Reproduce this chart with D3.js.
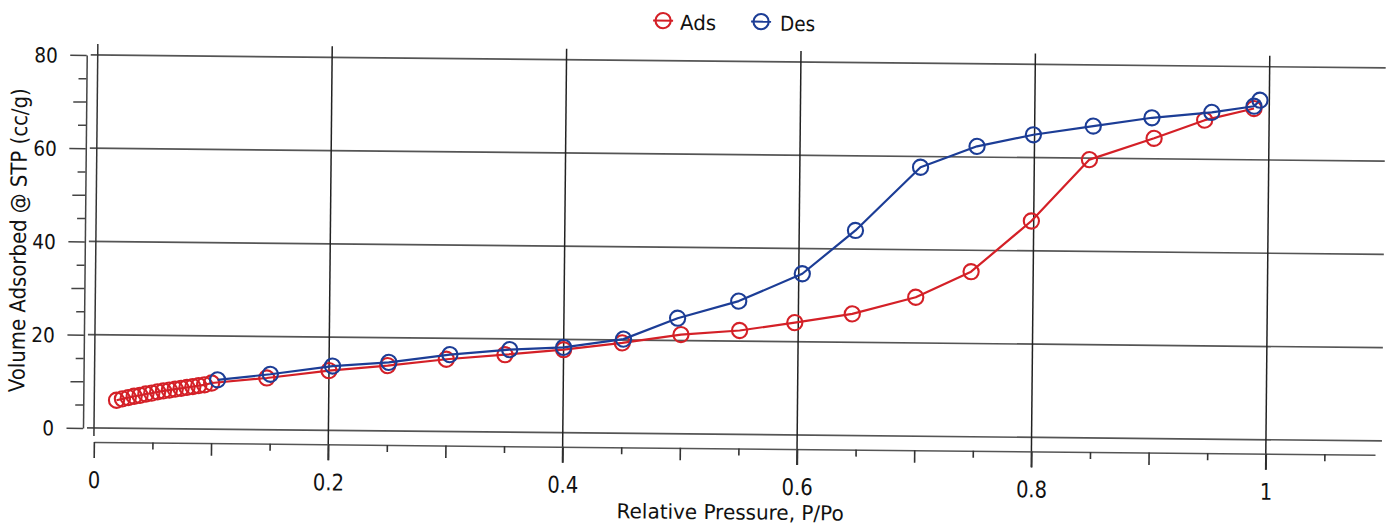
<!DOCTYPE html>
<html>
<head>
<meta charset="utf-8">
<script src="https://cdn.jsdelivr.net/npm/d3@7"></script>
<style>
  html, body { margin: 0; padding: 0; background: #fff; }
  svg { display: block; font-family: "DejaVu Sans", Verdana, sans-serif; }
</style>
</head>
<body>
<svg id="chart" width="1397" height="527"></svg>
<script>
// Nitrogen isotherm: adsorption and desorption branches
const adsP = [0.019, 0.024, 0.029, 0.034, 0.039, 0.044, 0.049, 0.054, 0.059, 0.064, 0.069,
              0.074, 0.079, 0.084, 0.089, 0.094, 0.1, 0.147, 0.2, 0.25, 0.3, 0.35, 0.4, 0.45,
              0.5, 0.55, 0.597, 0.646, 0.7, 0.747, 0.798, 0.847, 0.902, 0.945, 0.987];
const adsV = [6.0, 6.3, 6.6, 6.9, 7.1, 7.4, 7.6, 7.9, 8.1, 8.3, 8.5,
              8.7, 8.9, 9.1, 9.3, 9.5, 9.9, 11.1, 12.8, 14.0, 15.5, 16.6, 17.8, 19.4,
              21.3, 22.3, 24.1, 26.1, 29.8, 35.4, 46.4, 59.7, 64.4, 68.4, 71.0];

const desP = [0.992, 0.987, 0.951, 0.9, 0.85, 0.799, 0.751, 0.703, 0.648, 0.603,
              0.549, 0.497, 0.451, 0.4, 0.354, 0.303, 0.251, 0.203, 0.15, 0.105];
const desV = [72.8, 71.5, 70.1, 68.8, 66.9, 64.9, 62.3, 57.7, 44.0, 34.6,
              28.6, 24.8, 20.2, 18.3, 17.7, 16.5, 14.7, 13.8, 11.9, 10.6];

const yTicks = [0, 20, 40, 60, 80];
const xTicks = [0, 0.2, 0.4, 0.6, 0.8, 1];
const seriesNames = ["Ads", "Des"];

const RED = "#d42027", BLUE = "#1c3d96";

const svg = d3.select("#chart");
// whole sheet sits very slightly tilted
const root = svg.append("g").attr("transform", "rotate(0.573,94,428)");

const x = d3.scaleLinear().domain([0, 1]).range([94, 1266]);
const y = d3.scaleLinear().domain([0, 80]).range([428, 55]);
const xAxisScale = d3.scaleLinear().domain([0, 1.0932]).range([94, 94 + 1172 * 1.0932]);

// horizontal grid
root.append("g").selectAll("line").data(yTicks).join("line")
  .attr("x1", 87).attr("x2", 1382)
  .attr("y1", d => y(d)).attr("y2", d => y(d))
  .attr("stroke", "#555").attr("stroke-width", 1.7);

// left frame
root.append("line")
  .attr("x1", x(0)).attr("x2", x(0)).attr("y1", 44).attr("y2", 436)
  .attr("stroke", "#333").attr("stroke-width", 1.5);

// vertical grid
root.append("g").selectAll("line").data(xTicks.filter(d => d > 0)).join("line")
  .attr("x1", d => x(d)).attr("x2", d => x(d))
  .attr("y1", 44).attr("y2", 458)
  .attr("stroke", "#222").attr("stroke-width", 1.5);

function squeeze(sel, k) {
  sel.each(function () {
    const w = this.getComputedTextLength();
    if (w > 0) {
      this.setAttribute("textLength", (w * k).toFixed(1));
      this.setAttribute("lengthAdjust", "spacingAndGlyphs");
    }
  });
}

// y axis
const yAxis = d3.axisLeft(y)
  .tickValues(d3.range(0, 81, 5))
  .tickSizeOuter(0)
  .tickFormat(d => (d % 20 === 0 ? d : ""));
const gy = root.append("g").attr("transform", "translate(83,0)").call(yAxis);
gy.select(".domain").attr("stroke", "#444").attr("stroke-width", 1.5);
gy.selectAll(".tick line")
  .attr("x2", d => (d % 20 === 0 ? -16.5 : d % 10 === 0 ? -13 : -8))
  .attr("stroke", "#444").attr("stroke-width", 1.5);
gy.selectAll(".tick text")
  .attr("x", -29).attr("dy", "0.36em")
  .attr("font-size", 20.5).attr("fill", "#111")
  .style("font-family", "DejaVu Sans, sans-serif");
squeeze(gy.selectAll(".tick text"), 0.9);

// x axis
const xAxis = d3.axisBottom(xAxisScale)
  .tickValues(d3.range(0, 22).map(i => +(i * 0.05).toFixed(2)))
  .tickSizeOuter(0)
  .tickFormat(d => (Math.round(d * 100) % 20 === 0 ? d3.format("")(d) : ""));
const gx = root.append("g").attr("transform", "translate(0,442)").call(xAxis);
gx.select(".domain").attr("stroke", "#555").attr("stroke-width", 1.5);
gx.selectAll(".tick line")
  .attr("y2", d => {
    const c = Math.round(d * 100);
    return c % 20 === 0 ? 16 : c % 10 === 0 ? 12.5 : 7;
  })
  .attr("stroke", "#333").attr("stroke-width", 1.6);
gx.selectAll(".tick text")
  .attr("y", 46).attr("dy", null)
  .attr("font-size", 23).attr("fill", "#111")
  .style("font-family", "DejaVu Sans, sans-serif");
squeeze(gx.selectAll(".tick text"), 0.85);

// axis titles
root.append("text")
  .attr("x", 731).attr("y", 513).attr("text-anchor", "middle")
  .attr("font-size", 20.5).attr("fill", "#111")
  .attr("textLength", 227).attr("lengthAdjust", "spacingAndGlyphs")
  .text("Relative Pressure, P/Po");

root.append("text")
  .attr("transform", "translate(24,241) rotate(-90)")
  .attr("text-anchor", "middle")
  .attr("font-size", 22).attr("fill", "#111")
  .attr("textLength", 304).attr("lengthAdjust", "spacingAndGlyphs")
  .text("Volume Adsorbed @ STP (cc/g)");

// series
const ads = adsP.map((p, i) => ({ p, v: adsV[i] }));
const des = desP.map((p, i) => ({ p, v: desV[i] }));

const line = d3.line().x(d => x(d.p)).y(d => y(d.v));

function drawSeries(data, color) {
  root.append("path").datum(data)
    .attr("d", line).attr("fill", "none")
    .attr("stroke", color).attr("stroke-width", 2.2)
    .attr("stroke-linejoin", "round");
  root.append("g").selectAll("circle").data(data).join("circle")
    .attr("cx", d => x(d.p)).attr("cy", d => y(d.v)).attr("r", 7.6)
    .attr("fill", "none").attr("stroke", color).attr("stroke-width", 2.1);
}
drawSeries(ads, RED);
drawSeries(des, BLUE);

// legend
const legend = [
  { name: seriesNames[0], color: RED, cx: 659, tx: 676, len: 36 },
  { name: seriesNames[1], color: BLUE, cx: 757, tx: 776, len: 35 }
];
const lg = root.append("g").selectAll("g").data(legend).join("g");
lg.append("line")
  .attr("x1", d => d.cx - 10).attr("x2", d => d.cx + 10)
  .attr("y1", 15).attr("y2", 15)
  .attr("stroke", d => d.color).attr("stroke-width", 2);
lg.append("circle")
  .attr("cx", d => d.cx).attr("cy", 15).attr("r", 7.6)
  .attr("fill", "none").attr("stroke", d => d.color).attr("stroke-width", 2.1);
lg.append("text")
  .attr("x", d => d.tx).attr("y", 24)
  .attr("font-size", 20.5).attr("fill", "#111")
  .attr("textLength", d => d.len).attr("lengthAdjust", "spacingAndGlyphs")
  .text(d => d.name);
</script>
</body>
</html>
